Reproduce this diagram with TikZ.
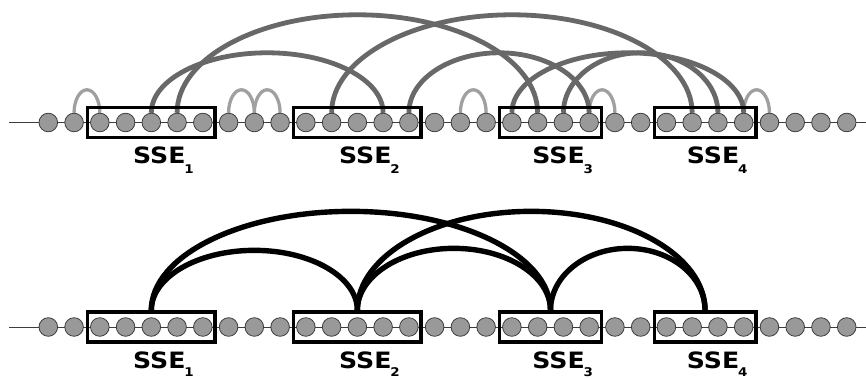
\documentclass[tikz,border=0pt]{standalone}
\usepackage{fontspec}
\newfontfamily\ssefont[FakeStretch=1.12]{DejaVu Sans}
\usetikzlibrary{calc,fit,backgrounds}

\definecolor{arcdark}{HTML}{686868}
\definecolor{arclight}{HTML}{A0A0A0}
\definecolor{resfill}{HTML}{999999}
\definecolor{resline}{HTML}{3C3C3C}

% half-elliptic bridge between two anchors at the same height
\newcommand\bridge[4][]{%
  \draw[#1] let \p1=(#2), \p2=(#3) in
    (\p1) arc[start angle=180,end angle=0,x radius={0.5*(\x2-\x1)},y radius=#4];}
% low-set index after an SSE label: #1 drop, #2 index
\newcommand\ssesub[2]{\rlap{\kern-1.2pt\raisebox{-#1}{\fontsize{12}{12}\selectfont#2}}}

\begin{document}
\begin{tikzpicture}[x=1pt,y=1pt,
  res/.style={circle,draw=resline,fill=resfill,line width=0.8pt,minimum size=18.6pt,inner sep=0pt},
  ssebox/.style={rectangle,draw=black,line width=3.3pt,inner xsep=2.5pt,inner ysep=5.3pt},
  lbl/.style={anchor=base,inner sep=0pt,font=\ssefont\bfseries\fontsize{22.5}{22.5}\selectfont},
  backbone/.style={draw=resline,line width=0.9pt},
  shortarc/.style={draw=arclight,line width=3.3pt},
  longarc/.style={draw=arcdark,line width=4.8pt},
  ssearc/.style={draw=black,line width=5.4pt}]

\useasboundingbox (0,0) rectangle (866,379);

% residues of the chain, residue-level view (t) and SSE-level view (b)
\foreach \i in {0,...,31} {
  \node[res] (t\i) at ({48.3+25.755*\i},256.5) {};
  \node[res] (b\i) at ({48.3+25.755*\i},52) {};
}

% secondary structure elements
\node[ssebox,fit=(t2)(t6)]   (tsse1) {};
\node[ssebox,fit=(t10)(t14)] (tsse2) {};
\node[ssebox,fit=(t18)(t21)] (tsse3) {};
\node[ssebox,fit=(t24)(t27)] (tsse4) {};
\node[ssebox,fit=(b2)(b6)]   (bsse1) {};
\node[ssebox,fit=(b10)(b14)] (bsse2) {};
\node[ssebox,fit=(b18)(b21)] (bsse3) {};
\node[ssebox,fit=(b24)(b27)] (bsse4) {};

\foreach \k in {1,2,3,4} {
  \node[lbl] (tl\k) at ([xshift=8pt,yshift=-40.8pt]tsse\k.center) {SSE\ssesub{10.5pt}{\k}};
  \node[lbl] (bl\k) at ([xshift=8pt,yshift=-41.6pt]bsse\k.center) {SSE\ssesub{8.2pt}{\k}};
}

\begin{scope}[on background layer]
  \coordinate (tstart) at (9,256.5);
  \coordinate (tend)   at (866,256.5);
  \coordinate (bstart) at (9,52);
  \coordinate (bend)   at (866,52);
  \draw[backbone] (tstart) -- (tend);
  \draw[backbone] (bstart) -- (bend);

  % local contacts
  \bridge[shortarc]{t1.north}{t2.north}{23pt}
  \bridge[shortarc]{t7.north}{t8.north}{23pt}
  \bridge[shortarc]{t8.north}{t9.north}{23pt}
  \bridge[shortarc]{t16.north}{t17.north}{23pt}
  \bridge[shortarc]{t21.north}{t22.north}{23pt}
  \bridge[shortarc]{t27.north}{t28.north}{23pt}

  % long-range residue contacts
  \bridge[longarc]{t4.north}{t13.north}{60pt}
  \bridge[longarc]{t5.north}{t19.north}{98pt}
  \bridge[longarc]{t11.north}{t25.north}{98pt}
  \bridge[longarc]{t14.north}{t21.north}{60pt}
  \bridge[longarc]{t18.north}{t27.north}{60pt}
  \bridge[longarc]{t20.north}{t26.north}{60pt}

  % SSE contacts
  \bridge[ssearc]{bsse1.north}{bsse2.north}{60pt}
  \bridge[ssearc]{bsse1.north}{bsse3.north}{99pt}
  \bridge[ssearc]{bsse2.north}{bsse3.north}{62pt}
  \bridge[ssearc]{bsse2.north}{bsse4.north}{99pt}
  \bridge[ssearc]{bsse3.north}{bsse4.north}{62pt}
\end{scope}
\end{tikzpicture}
\end{document}
